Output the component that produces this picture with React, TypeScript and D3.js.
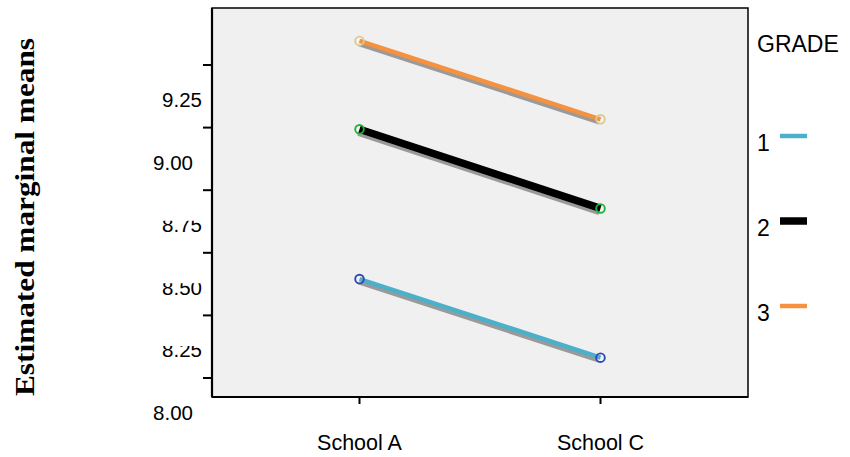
import React from "react";
import * as d3 from "d3";

const schools = ["School A", "School C"];
const gradeNames = ["1", "2", "3"];
const grade1 = [8.535, 8.221];
const grade2 = [9.133, 8.817];
const grade3 = [9.486, 9.173];
const yTicks = [8.0, 8.25, 8.5, 8.75, 9.0, 9.25];
const yTitle = "Estimated marginal means";
const legendTitle = "GRADE";

const W = 850, H = 457;
const plot = { left: 212, right: 748, top: 8, bottom: 397 };

const styles = [
  { color: "#4bb0c9", width: 4.5, marker: "#2f47b5" },
  { color: "#000000", width: 7.5, marker: "#1fb43a" },
  { color: "#f5913f", width: 4.5, marker: "#d8cb8f" },
];

export default function App() {
  const x = d3.scalePoint<string>().domain(schools).range([plot.left, plot.right]).padding(0.612);
  const y = d3.scaleLinear().domain([8, 9.25]).range([413, 100]);
  const series = [grade1, grade2, grade3];
  const line = d3.line<number>().x((_, i) => x(schools[i])!).y((d) => y(d));
  const sans = "'Liberation Sans', Arial, sans-serif";
  const tickShift = -35;

  return (
    <svg width={W} height={H} style={{ position: "absolute", left: 0, top: 0 }}>
      <defs>
        <filter id="blur" x="-20%" y="-100%" width="140%" height="300%">
          <feGaussianBlur stdDeviation="1.2" />
        </filter>
        {yTicks.map((t, i) => (
          <clipPath id={`clip${i}`} key={i}>
            <rect x={100} y={y(t) + 7 - 11.5} width={120} height={30} />
          </clipPath>
        ))}
      </defs>
      <rect x={0} y={0} width={W} height={H} fill="#fff" />
      <rect x={plot.left} y={plot.top} width={plot.right - plot.left} height={plot.bottom - plot.top} fill="#f0f0f0" />

      {/* series */}
      {series.map((vals, si) => (
        <path key={"s" + si} d={line(vals)!} transform="translate(-1,3)" stroke="#9a9a9a" strokeWidth={styles[si].width} fill="none" />
      ))}
      {series.map((vals, si) => (
        <g key={"l" + si}>
          {vals.map((v, i) => (
            <circle key={i} cx={x(schools[i])} cy={y(v)} r={4.3} fill="#f4f4f4" />
          ))}
          <path d={line(vals)!} stroke={styles[si].color} strokeWidth={styles[si].width} fill="none" />
          {vals.map((v, i) => (
            <circle key={"c" + i} cx={x(schools[i])} cy={y(v)} r={4.3} fill="none" stroke={styles[si].marker} strokeWidth={1.9} />
          ))}
        </g>
      ))}

      {/* frame */}
      <rect x={plot.left} y={plot.top} width={plot.right - plot.left} height={plot.bottom - plot.top} fill="none" stroke="#000" strokeWidth={1.5} />
      <line x1={plot.left} x2={plot.left} y1={plot.top} y2={plot.bottom} stroke="#000" strokeWidth={2.2} />
      <line x1={plot.left} x2={plot.right} y1={plot.bottom} y2={plot.bottom} stroke="#000" strokeWidth={2} />

      {/* y ticks */}
      {yTicks.map((t, i) => {
        const isWhole = Math.abs(t - Math.round(t)) < 1e-9;
        const top = i === yTicks.length - 1;
        return (
          <g key={"yt" + i}>
            <line x1={plot.left - 9} x2={plot.left} y1={y(t) + tickShift} y2={y(t) + tickShift} stroke="#000" strokeWidth={2} />
            <text
              x={isWhole ? 193 : 202}
              y={y(t) + 7}
              textAnchor="end"
              fontFamily={sans}
              fontSize={20.5}
              fill="#000"
              clipPath={isWhole || top ? undefined : `url(#clip${i})`}
            >
              {t.toFixed(2)}
            </text>
          </g>
        );
      })}

      {/* x ticks */}
      {schools.map((s) => (
        <g key={s}>
          <line x1={x(s)} x2={x(s)} y1={plot.bottom} y2={plot.bottom + 7} stroke="#000" strokeWidth={2} />
          <text x={x(s)} y={450} textAnchor="middle" fontFamily={sans} fontSize={21.5} fill="#000">{s}</text>
        </g>
      ))}

      {/* y title */}
      <text
        transform="translate(33.5,217) rotate(-90)"
        textAnchor="middle"
        fontFamily="'Liberation Serif', 'Times New Roman', serif"
        fontWeight="bold"
        fontSize={27}
        textLength={358}
        lengthAdjust="spacingAndGlyphs"
        fill="#000"
      >
        {yTitle}
      </text>

      {/* legend */}
      <text x={757} y={51.5} fontFamily={sans} fontSize={23} fill="#000">{legendTitle}</text>
      {gradeNames.map((g, i) => {
        const by = 151 + i * 85;
        const sy = by - 15;
        return (
          <g key={g}>
            <text x={757} y={by} fontFamily={sans} fontSize={23} fill="#000">{g}</text>
            <line x1={780} x2={807} y1={sy + 2.5} y2={sy + 2.5} stroke="#888" strokeWidth={styles[i].width} filter="url(#blur)" />
            <line x1={780} x2={807} y1={sy} y2={sy} stroke={styles[i].color} strokeWidth={styles[i].width} />
          </g>
        );
      })}
    </svg>
  );
}
